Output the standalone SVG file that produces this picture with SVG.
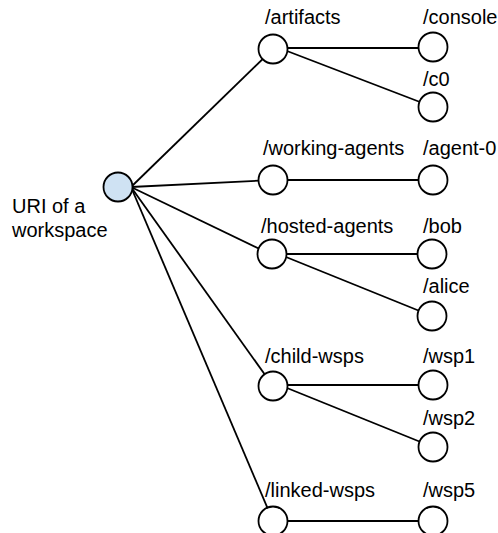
<svg xmlns="http://www.w3.org/2000/svg" width="498" height="533" viewBox="0 0 498 533">
<style>
.n{fill:#fff;stroke:#000;stroke-width:1.8}
.r{fill:#cfe2f3;stroke:#000;stroke-width:1.8}
.e{stroke:#000;stroke-width:1.8;fill:none}
text{font-family:"Liberation Sans",Arial,sans-serif;font-size:20px;fill:#000}
</style>
<rect width="498" height="533" fill="#fff"/>
<g id="connectors">
<line class="e" x1="131" y1="187" x2="273" y2="49"/>
<line class="e" x1="131" y1="187" x2="273" y2="180"/>
<line class="e" x1="131" y1="187" x2="272" y2="255"/>
<line class="e" x1="131" y1="187" x2="273" y2="386"/>
<line class="e" x1="131" y1="187" x2="273" y2="521"/>
<line class="e" x1="287" y1="48" x2="433" y2="48"/>
<line class="e" x1="287" y1="51" x2="433" y2="107"/>
<line class="e" x1="287" y1="180" x2="433" y2="180"/>
<line class="e" x1="286" y1="254" x2="432" y2="254"/>
<line class="e" x1="286" y1="257" x2="432" y2="316"/>
<line class="e" x1="287" y1="385" x2="433" y2="385"/>
<line class="e" x1="287" y1="388" x2="433" y2="447"/>
<line class="e" x1="287" y1="521" x2="433" y2="521"/>
</g>
<g id="root"><circle class="r" cx="118" cy="187" r="14.5"/><text x="12" y="213">URI of a</text><text x="12" y="237">workspace</text></g>
<g id="artifacts"><circle class="n" cx="273" cy="49" r="14.5"/><text x="265" y="24">/artifacts</text></g>
<g id="console"><circle class="n" cx="433" cy="47" r="14.5"/><text x="423" y="24">/console</text></g>
<g id="c0"><circle class="n" cx="433" cy="107" r="14.5"/><text x="423" y="86">/c0</text></g>
<g id="working-agents"><circle class="n" cx="273" cy="180" r="14.5"/><text x="263" y="155">/working-agents</text></g>
<g id="agent-0"><circle class="n" cx="433" cy="180" r="14.5"/><text x="423" y="155">/agent-0</text></g>
<g id="hosted-agents"><circle class="n" cx="272" cy="254" r="14.5"/><text x="261" y="233">/hosted-agents</text></g>
<g id="bob"><circle class="n" cx="432" cy="254" r="14.5"/><text x="423" y="233">/bob</text></g>
<g id="alice"><circle class="n" cx="432" cy="316" r="14.5"/><text x="423" y="293">/alice</text></g>
<g id="child-wsps"><circle class="n" cx="273" cy="386" r="14.5"/><text x="265" y="363">/child-wsps</text></g>
<g id="wsp1"><circle class="n" cx="433" cy="385" r="14.5"/><text x="423" y="363">/wsp1</text></g>
<g id="wsp2"><circle class="n" cx="433" cy="447" r="14.5"/><text x="423" y="425">/wsp2</text></g>
<g id="linked-wsps"><circle class="n" cx="273" cy="521" r="14.5"/><text x="265" y="497">/linked-wsps</text></g>
<g id="wsp5"><circle class="n" cx="433" cy="521" r="14.5"/><text x="423" y="497">/wsp5</text></g>
</svg>
